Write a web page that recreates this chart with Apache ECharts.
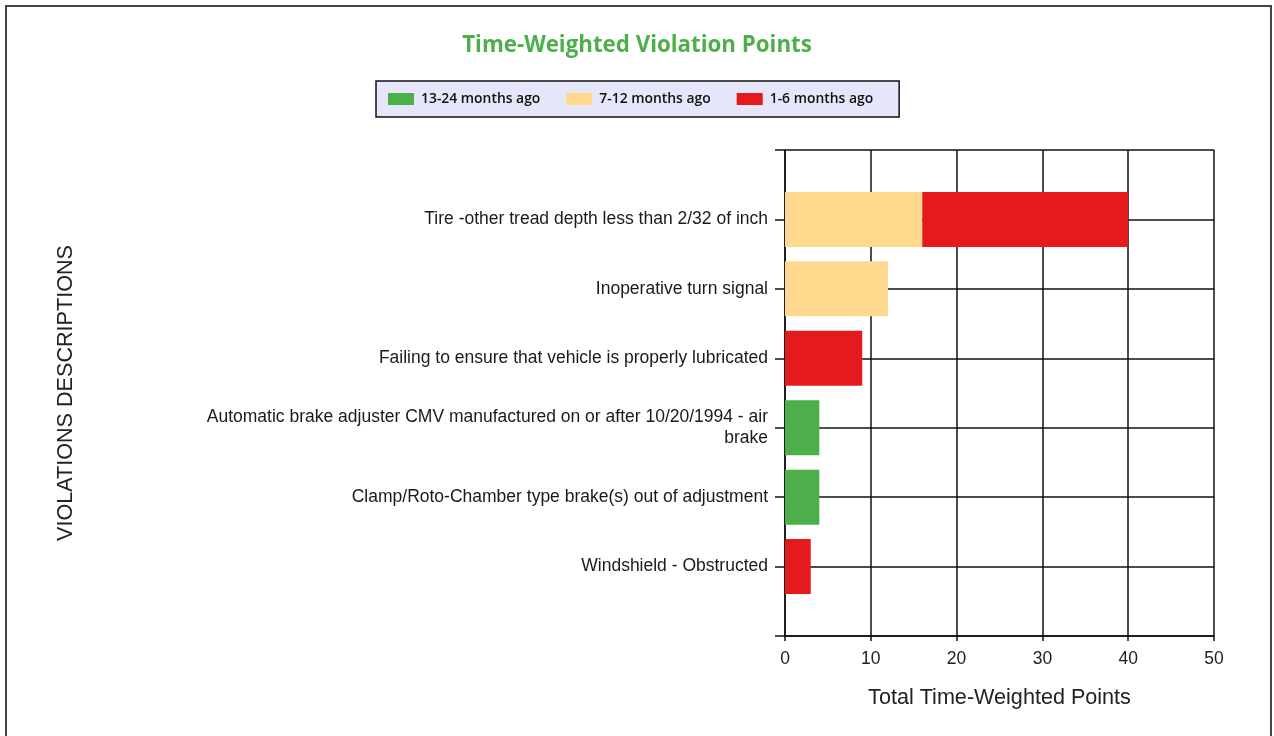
<!DOCTYPE html>
<html>
<head>
<meta charset="utf-8">
<script src="https://cdn.jsdelivr.net/npm/echarts@6/dist/echarts.min.js"></script>
<style>
html,body{margin:0;padding:0;background:#fff;}
#chart{width:1274px;height:736px;}
</style>
</head>
<body>
<div id="chart"></div>
<script>
const categories = [
  'Tire -other tread depth less than 2/32 of inch',
  'Inoperative turn signal',
  'Failing to ensure that vehicle is properly lubricated',
  'Automatic brake adjuster CMV manufactured on or after 10/20/1994 - air\nbrake',
  'Clamp/Roto-Chamber type brake(s) out of adjustment',
  'Windshield - Obstructed'
];
const seriesNames = ['13-24 months ago', '7-12 months ago', '1-6 months ago'];
const months13to24 = [0, 0, 0, 4, 4, 0];
const months7to12 = [16, 12, 0, 0, 0, 0];
const months1to6 = [24, 0, 9, 0, 0, 3];
const xTicks = [0, 10, 20, 30, 40, 50];

const colors = ['#4DAF4A', '#FED98E', '#E41A1C'];
const pad = arr => [null].concat(arr.map(v => v === 0 ? null : v), [null]);
const axisCats = [''].concat(categories, ['']);

const chart = echarts.init(document.getElementById('chart'), null, {renderer: 'canvas'});
const labelFont = '"Liberation Sans", Arial, sans-serif';
chart.setOption({
  animation: false,
  backgroundColor: '#ffffff',
  title: {
    text: 'Time-Weighted Violation Points',
    left: 'center',
    top: 30,
    textStyle: {color: '#4DAF4A', fontFamily: '"Open Sans", sans-serif', fontWeight: 'bold', fontSize: 22.3}
  },
  legend: {
    data: seriesNames,
    left: 376,
    top: 81,
    backgroundColor: '#E6E6FA',
    borderColor: '#111',
    borderWidth: 1.5,
    borderRadius: 0,
    padding: [11, 26, 11, 12],
    itemWidth: 26,
    itemHeight: 12,
    itemGap: 26,
    icon: 'rect',
    textStyle: {color: '#111', fontFamily: '"Open Sans", sans-serif', fontWeight: 600, fontSize: 13.9, padding: [2, 0, 0, 2]}
  },
  grid: {left: 785, right: 60, top: 150, bottom: 100, containLabel: false},
  xAxis: {
    type: 'value',
    min: xTicks[0],
    max: xTicks[xTicks.length - 1],
    interval: xTicks[1] - xTicks[0],
    name: 'Total Time-Weighted Points',
    nameLocation: 'middle',
    nameGap: 51,
    nameTextStyle: {color: '#222', fontFamily: labelFont, fontSize: 21.6},
    axisLine: {show: true, lineStyle: {color: '#111', width: 1.5}},
    axisTick: {show: true, length: 5, lineStyle: {color: '#111', width: 1.5}},
    axisLabel: {color: '#222', fontFamily: labelFont, fontSize: 17.5, margin: 14},
    splitLine: {show: true, lineStyle: {color: '#111', width: 1.5}}
  },
  yAxis: {
    type: 'category',
    data: axisCats,
    inverse: true,
    boundaryGap: false,
    name: 'VIOLATIONS DESCRIPTIONS',
    nameLocation: 'middle',
    nameGap: 708,
    nameTextStyle: {color: '#222', fontFamily: labelFont, fontSize: 21.6},
    axisLine: {show: true, lineStyle: {color: '#111', width: 1.5}},
    axisTick: {show: true, length: 10, alignWithLabel: true, lineStyle: {color: '#111', width: 1.5}},
    axisLabel: {color: '#1a1a1a', fontFamily: labelFont, fontSize: 17.5, margin: 17, lineHeight: 21, interval: 0, align: 'right'},
    splitLine: {show: true, lineStyle: {color: '#111', width: 1.5}}
  },
  graphic: [{
    type: 'rect',
    shape: {x: 6, y: 6, width: 1265, height: 760},
    style: {fill: null, stroke: '#444', lineWidth: 2},
    silent: true,
    z: 100
  }],
  series: [
    {name: seriesNames[0], type: 'bar', stack: 'total', barWidth: 55, data: pad(months13to24), itemStyle: {color: colors[0]}},
    {name: seriesNames[1], type: 'bar', stack: 'total', barWidth: 55, data: pad(months7to12), itemStyle: {color: colors[1]}},
    {name: seriesNames[2], type: 'bar', stack: 'total', barWidth: 55, data: pad(months1to6), itemStyle: {color: colors[2]}}
  ]
});
</script>
</body>
</html>
